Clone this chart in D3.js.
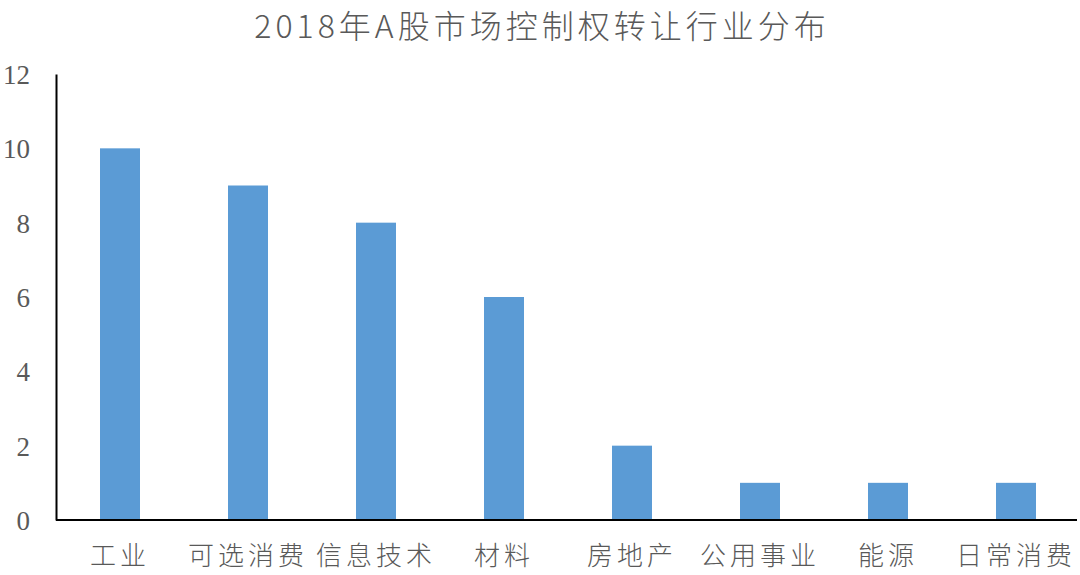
<!DOCTYPE html>
<html>
<head>
<meta charset="utf-8">
<script src="https://cdn.jsdelivr.net/npm/d3@7"></script>
<style>
  html, body { margin: 0; padding: 0; background: #fff; }
  svg { display: block; }
</style>
</head>
<body>
<svg id="chart" width="1080" height="575"></svg>
<script>
const title = "2018年A股市场控制权转让行业分布";
const categories = ["工业", "可选消费", "信息技术", "材料", "房地产", "公用事业", "能源", "日常消费"];
const values = [10, 9, 8, 6, 2, 1, 1, 1];
const yTicks = [0, 2, 4, 6, 8, 10, 12];

const svg = d3.select("#chart");
const W = 1080, H = 575;
const margin = { left: 56, right: 0, top: 74, bottom: 55 };

const x = d3.scaleBand()
  .domain(categories)
  .range([margin.left, W - margin.right])
  .paddingInner(0.6875)
  .paddingOuter(0.34375);

const y = d3.scaleLinear()
  .domain([0, 12])
  .range([H - margin.bottom, margin.top]);

svg.append("text")
  .attr("x", 542)
  .attr("y", 38)
  .attr("text-anchor", "middle")
  .attr("font-family", "'Noto Sans CJK SC', sans-serif")
  .attr("font-weight", 300)
  .attr("font-size", 32)
  .attr("letter-spacing", 4)
  .attr("fill", "#595959")
  .text(title);

svg.append("g")
  .selectAll("rect")
  .data(values)
  .join("rect")
  .attr("x", (d, i) => x(categories[i]))
  .attr("width", x.bandwidth())
  .attr("y", d => y(d))
  .attr("height", d => y(0) - y(d))
  .attr("fill", "#5B9BD5");

// y axis
const yAxis = d3.axisLeft(y).tickValues(yTicks).tickSize(0).tickPadding(26);
const gy = svg.append("g").attr("transform", `translate(${margin.left},0)`).call(yAxis);
gy.select(".domain").attr("stroke", "#000").attr("stroke-width", 2);
gy.selectAll("text")
  .attr("font-family", "'Liberation Serif', serif")
  .attr("font-size", 27)
  .attr("fill", "#595959")
  .attr("dy", "0.35em");

// x axis
const xAxis = d3.axisBottom(x).tickSize(0).tickPadding(27);
const gx = svg.append("g").attr("transform", `translate(0,${y(0)})`).call(xAxis);
gx.select(".domain").attr("stroke", "#000").attr("stroke-width", 2)
  .attr("d", `M${margin.left},0H${W - 3}`);
gx.selectAll("text")
  .attr("font-family", "'Noto Sans CJK SC', sans-serif")
  .attr("font-weight", 300)
  .attr("font-size", 26)
  .attr("letter-spacing", 4)
  .attr("fill", "#595959")
  .attr("dy", "0.71em");
</script>
</body>
</html>
